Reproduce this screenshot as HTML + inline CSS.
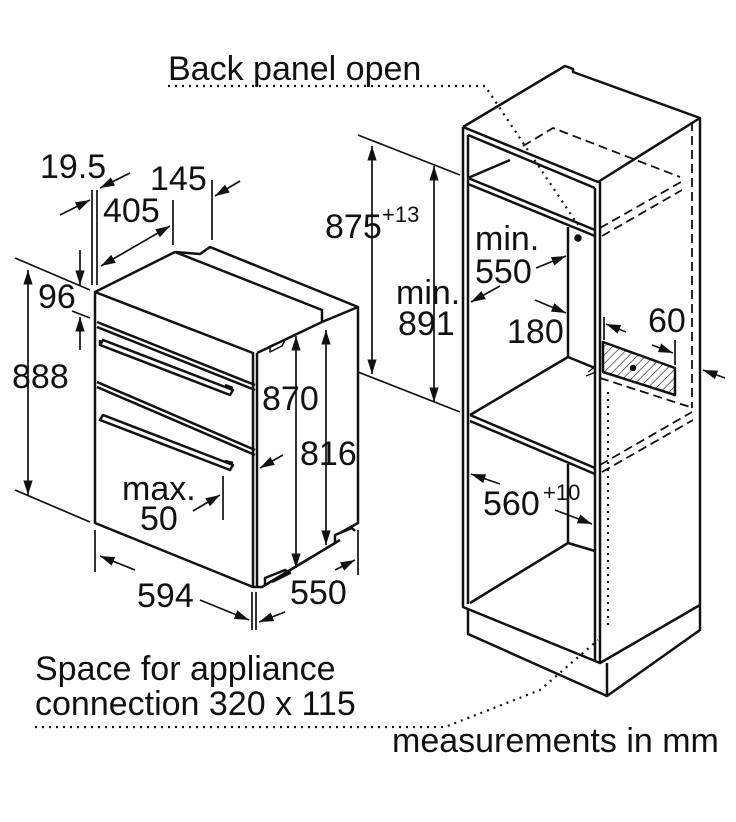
<!DOCTYPE html>
<html><head><meta charset="utf-8"><style>
html,body{margin:0;padding:0;background:#fff;}
svg{display:block;}
text{font-family:"Liberation Sans",sans-serif;fill:#111;}
</style></head><body>
<svg width="736" height="822" viewBox="0 0 736 822" xmlns="http://www.w3.org/2000/svg">
<defs>
<marker id="a" viewBox="0 0 10 10" refX="10" refY="5" markerWidth="8.5" markerHeight="8.5" orient="auto-start-reverse"><path d="M0,1.8 L10,5 L0,8.2 z" fill="#111"/></marker>
<pattern id="h" width="6" height="6" patternUnits="userSpaceOnUse" patternTransform="rotate(45)"><line x1="0" y1="0" x2="0" y2="6" stroke="#111" stroke-width="1.2"/></pattern>
</defs>
<g fill="none" stroke="#111" stroke-width="2.5" stroke-linejoin="round">
<!-- OVEN -->
<path d="M95,292 L95,523 L253,587 L253,353 L95,292 Z"/>
<path d="M95,292 L175,252 L200,254 L210,247 L358,307 L358,523 L340,533"/>
<path d="M257,353 L322,322 L322,310 L175,252"/>
<path d="M322,322 L358,307"/>
<line x1="257" y1="353" x2="257" y2="587"/>
<path d="M253,587 L262,587 L340,540"/>
<path d="M265,585 L265,578 L285,570 L290,573 L272,582"/>
<path d="M335,543 L335,535 L352,528 L355,531"/>
<path d="M97,322 L255,385 M97,327 L255,390"/>
<path d="M97,382 L255,450 M97,387 L255,455"/>
<path d="M100,345 L230,395 L233,390 L103,340 Z M100,345 L100,340 M225,385 L233,388"/>
<path d="M100,420 L230,470 L233,465 L103,415 Z M225,461 L233,463"/>
<path d="M270,352 L282,346 L285,340 L270,346 Z" stroke-width="1.5"/>
<g stroke-width="1.7">
<line x1="15" y1="258" x2="90" y2="290"/>
<line x1="15" y1="490" x2="90" y2="522"/>
<line x1="28" y1="270" x2="28" y2="495" marker-start="url(#a)" marker-end="url(#a)"/>
<line x1="80" y1="250" x2="80" y2="285" marker-end="url(#a)"/>
<line x1="80" y1="350" x2="80" y2="317" marker-end="url(#a)"/>
<line x1="72" y1="311" x2="90" y2="318"/>
<line x1="92" y1="190" x2="92" y2="285"/>
<line x1="97" y1="190" x2="97" y2="285"/>
<line x1="60" y1="215" x2="90" y2="200" marker-end="url(#a)"/>
<line x1="130" y1="173" x2="100" y2="188" marker-end="url(#a)"/>
<line x1="173" y1="200" x2="173" y2="245"/>
<line x1="101" y1="266" x2="170" y2="226" marker-start="url(#a)" marker-end="url(#a)"/>
<line x1="212" y1="180" x2="212" y2="240"/>
<line x1="240" y1="181" x2="215" y2="196" marker-end="url(#a)"/>
<line x1="223" y1="476" x2="223" y2="520"/>
<line x1="193" y1="511" x2="220" y2="495" marker-end="url(#a)"/>
<line x1="283" y1="455" x2="260" y2="468" marker-end="url(#a)"/>
<line x1="296" y1="336" x2="296" y2="568" marker-start="url(#a)" marker-end="url(#a)"/>
<line x1="326" y1="330" x2="326" y2="545" marker-start="url(#a)" marker-end="url(#a)"/>
<line x1="95" y1="530" x2="95" y2="572"/>
<line x1="252" y1="592" x2="252" y2="630"/>
<line x1="256" y1="592" x2="256" y2="630"/>
<line x1="358" y1="530" x2="358" y2="575"/>
<line x1="100" y1="556" x2="135" y2="570" marker-start="url(#a)"/>
<line x1="200" y1="600" x2="249" y2="620" marker-end="url(#a)"/>
<line x1="285" y1="612" x2="259" y2="622" marker-end="url(#a)"/>
<line x1="355" y1="560" x2="335" y2="570" marker-start="url(#a)"/>
</g>
<!-- CABINET -->
<path d="M463,127 L565,66 L573,69 L573,72 L700,118 L700,630 L607,696 L607,663"/>
<path d="M463,127 L598,182 L700,118"/>
<path d="M463,127 L463,607 L600,663 L600,182"/>
<path d="M468,135 L468,604 M595,188 L595,660 M468,135 L595,188"/>
<path d="M468,178 L595,230 M468,184 L595,236 M468,178 L510,160"/>
<path d="M568,227 L568,357 L470,415 M568,357 L595,368"/>
<path d="M470,415 L595,468 M470,421 L595,474"/>
<path d="M568,464 L568,543 L470,603 M568,543 L595,551"/>
<path d="M468,609 L468,634 L607,696 M600,663 L700,605"/>
<path d="M603,342 L675,368 L675,395 L603,372 Z" fill="url(#h)"/>
<circle cx="578" cy="238" r="2.5" fill="#111"/>
<circle cx="633" cy="368" r="2" fill="#111"/>
<path d="M588,372 L596,366 M586,376 L596,372" stroke-width="1.3"/>
<g stroke-dasharray="9,5" stroke-width="1.8">
<path d="M523,146 L553,128 L680,177"/>
<path d="M600,228 L681,182 M602,236 L682,190"/>
<path d="M692,122 L692,408"/>
<path d="M600,465 L692,412 M602,472 L693,420"/>
<path d="M600,378 L690,407"/>
</g>
<g stroke-dasharray="2,5" stroke-width="2.2">
<path d="M168,86 L485,86 L578,225"/>
<path d="M608,392 L608,625"/>
<path d="M35,727 L445,727 L540,690 L598,640"/>
</g>
<g stroke-width="1.7">
<line x1="358" y1="135" x2="460" y2="175"/>
<line x1="358" y1="372" x2="460" y2="412"/>
<line x1="372" y1="146" x2="372" y2="374" marker-start="url(#a)" marker-end="url(#a)"/>
<line x1="434" y1="166" x2="434" y2="402" marker-start="url(#a)" marker-end="url(#a)"/>
<line x1="536" y1="268" x2="566" y2="256" marker-end="url(#a)"/>
<line x1="500" y1="286" x2="471" y2="302" marker-end="url(#a)"/>
<line x1="535" y1="300" x2="566" y2="313" marker-end="url(#a)"/>
<line x1="604" y1="317" x2="604" y2="340"/>
<line x1="626" y1="332" x2="606" y2="324" marker-end="url(#a)"/>
<line x1="675" y1="340" x2="675" y2="365"/>
<line x1="652" y1="345" x2="673" y2="353" marker-end="url(#a)"/>
<line x1="725" y1="378" x2="703" y2="370" marker-end="url(#a)"/>
<line x1="500" y1="484" x2="471" y2="474" marker-end="url(#a)"/>
<line x1="555" y1="510" x2="592" y2="524" marker-end="url(#a)"/>
</g>
</g>
<g font-size="34">
<text x="168" y="80">Back panel open</text>
<text x="40" y="178">19.5</text>
<text x="150" y="190">145</text>
<text x="103" y="222">405</text>
<text x="38" y="308">96</text>
<text x="12" y="388">888</text>
<text x="262" y="410">870</text>
<text x="300" y="465">816</text>
<text x="122" y="500">max.</text>
<text x="140" y="530">50</text>
<text x="137" y="607">594</text>
<text x="290" y="604">550</text>
<text x="325" y="238">875</text>
<text x="382" y="222" font-size="22">+13</text>
<text x="396" y="304">min.</text>
<text x="398" y="335">891</text>
<text x="475" y="250">min.</text>
<text x="475" y="283">550</text>
<text x="507" y="343">180</text>
<text x="648" y="332">60</text>
<text x="483" y="515">560</text>
<text x="543" y="500" font-size="22">+10</text>
<text x="35" y="680">Space for appliance</text>
<text x="35" y="715">connection 320 x 115</text>
<text x="392" y="752">measurements in mm</text>
</g>
</svg>
</body></html>
